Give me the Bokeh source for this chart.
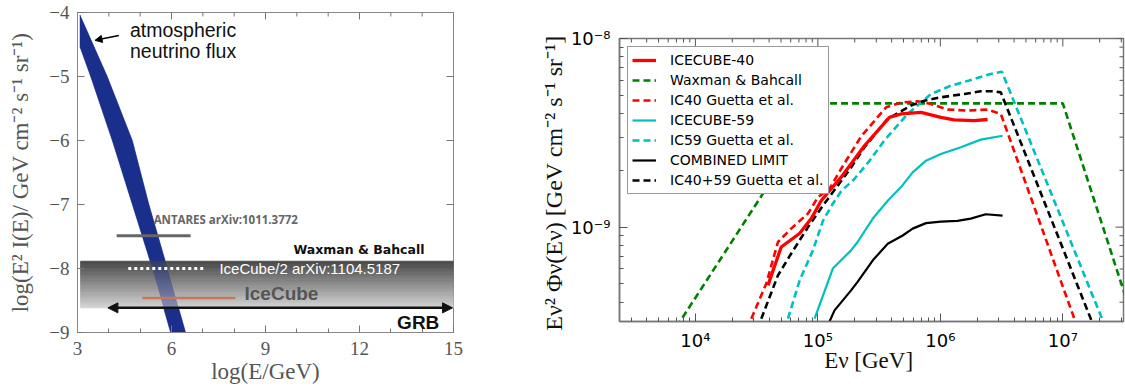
import numpy as np
from bokeh.plotting import figure
from bokeh.layouts import row
from bokeh.models import (Range1d, FixedTicker, Label, Arrow, NormalHead,
                          Legend, LegendItem, CustomJSTickFormatter)
from bokeh.embed import file_html
from bokeh.resources import INLINE

# ---------------- left panel data (log10 units) ----------------
atm_right_logE = [3.08, 3.95, 4.75, 5.28, 5.87, 6.45]
atm_right_logF = [-4.04, -5.0, -6.0, -7.0, -8.0, -9.0]
atm_left_logE = [3.08, 3.42, 4.11, 4.75, 5.39, 5.97]
atm_left_logF = [-4.54, -5.0, -6.0, -7.0, -8.0, -9.0]
wb_band_logE = [3.1, 15.0]
wb_band_logF = [-8.615, -7.886]
antares_logE = [4.25, 6.61]
antares_logF = [-7.49, -7.49]
ic2_logE = [4.62, 7.03]
ic2_logF = [-8.0, -8.0]
ic_logE = [5.07, 8.04]
ic_logF = [-8.46, -8.46]
grb_logE = [3.97, 14.97]
grb_logF = [-8.615, -8.615]
atm_arrow_logE = [4.32, 3.56]
atm_arrow_logF = [-4.36, -4.435]
left_xticks = [3, 6, 9, 12, 15]
left_xminor = list(range(3, 16))
left_yticks = [-9, -8, -7, -6, -5, -4]

# ---------------- right panel data ----------------
wb_E = [5.0e3, 1.07e5, 1.0e7, 5.0e7]
wb_F = [2.11e-10, 4.53e-9, 4.53e-9, 1.81e-10]

ic40_E = [3.91e4, 5.02e4, 7.08e4, 8.83e4, 1.064e5, 1.245e5, 1.55e5, 2.40e5, 3.84e5,
          4.78e5, 6.95e5, 1.01e6, 1.30e6, 1.89e6, 2.43e6]
ic40_F = [4.91e-10, 7.85e-10, 9.25e-10, 1.11e-9, 1.38e-9, 1.56e-9, 1.84e-9, 2.70e-9, 3.82e-9,
          3.98e-9, 4.06e-9, 3.82e-9, 3.70e-9, 3.67e-9, 3.72e-9]

ic40g_E = [2.86e4, 3.79e4, 4.72e4, 6.05e4, 8.30e4, 1.0e5, 1.245e5, 1.55e5, 2.25e5, 3.61e5,
           4.79e5, 6.53e5, 8.38e5, 1.145e6, 1.67e6, 2.43e6, 3.12e6, 1.27e7]
ic40g_F = [3.27e-10, 5.02e-10, 8.34e-10, 9.82e-10, 1.18e-9, 1.44e-9, 1.60e-9, 2.04e-9, 3.02e-9,
           4.32e-9, 4.58e-9, 4.65e-9, 4.50e-9, 4.20e-9, 4.15e-9, 4.20e-9, 3.98e-9, 3.14e-10]

ic59_E = [9.40e4, 1.324e5, 1.866e5, 2.11e5, 2.81e5, 3.72e5, 4.78e5, 5.94e5, 7.64e5, 1.01e6,
          1.47e6, 2.14e6, 3.22e6]
ic59_F = [3.27e-10, 6.03e-10, 7.53e-10, 8.34e-10, 1.11e-9, 1.38e-9, 1.63e-9, 1.95e-9, 2.25e-9,
          2.44e-9, 2.65e-9, 2.91e-9, 3.05e-9]

ic59g_E = [5.70e4, 7.10e4, 9.10e4, 1.10e5, 1.324e5, 1.55e5, 1.986e5, 2.63e5, 3.49e5, 5.41e5,
           8.38e5, 1.22e6, 1.89e6, 2.58e6, 3.18e6, 2.09e7]
ic59g_F = [3.27e-10, 5.22e-10, 7.53e-10, 1.08e-9, 1.33e-9, 1.55e-9, 1.80e-9, 2.24e-9, 2.88e-9,
           3.98e-9, 5.08e-9, 5.62e-9, 6.10e-9, 6.49e-9, 6.67e-9, 3.27e-10]

comb_E = [1.245e5, 1.368e5, 1.866e5, 2.11e5, 2.81e5, 3.72e5, 4.93e5, 5.94e5, 7.64e5, 1.01e6,
          1.38e6, 1.77e6, 2.35e6, 3.22e6]
comb_F = [3.16e-10, 3.62e-10, 4.62e-10, 5.13e-10, 6.67e-10, 8.17e-10, 9.03e-10, 9.82e-10,
          1.05e-9, 1.07e-9, 1.08e-9, 1.11e-9, 1.17e-9, 1.15e-9]

combg_E = [3.45e4, 4.72e4, 6.05e4, 8.30e4, 1.10e5, 1.324e5, 1.866e5, 2.40e5, 3.72e5, 5.75e5,
           7.40e5, 1.01e6, 1.57e6, 2.14e6, 2.75e6, 3.12e6, 1.71e7]
combg_F = [3.27e-10, 5.55e-10, 7.23e-10, 1.0e-9, 1.30e-9, 1.53e-9, 2.07e-9, 2.65e-9, 3.75e-9,
           4.41e-9, 4.68e-9, 4.88e-9, 5.08e-9, 5.25e-9, 5.25e-9, 5.18e-9, 3.21e-10]

right_xticks = [1e4, 1e5, 1e6, 1e7]
right_yticks = [1e-9, 1e-8]

SERIF = "Liberation Serif"
SANS = "Liberation Sans"
MPL = "DejaVu Sans"

# ======================= LEFT PANEL =======================
W1, H1 = 530, 392
B1 = dict(left=77, right=77, top=12, bottom=60)
X1, Y1 = (3, 15), (-9, -4)
p1 = figure(width=W1, height=H1, x_range=Range1d(*X1), y_range=Range1d(*Y1),
            output_backend="svg", toolbar_location=None,
            min_border_left=B1["left"], min_border_right=B1["right"],
            min_border_top=B1["top"], min_border_bottom=B1["bottom"])
p1.grid.visible = False
p1.outline_line_color = "#888888"

neg_fmt = CustomJSTickFormatter(code="return tick < 0 ? '\u2212' + Math.abs(tick) : String(tick);")
xt1 = FixedTicker(ticks=left_xticks, minor_ticks=left_xminor)
yt1 = FixedTicker(ticks=left_yticks, minor_ticks=[])

for ax in (p1.xaxis[0], p1.yaxis[0]):
    ax.major_tick_in = 7
    ax.major_tick_out = 0
    ax.minor_tick_in = 4
    ax.minor_tick_out = 0
    ax.axis_line_color = "#888888"
    ax.major_tick_line_color = "#777777"
    ax.minor_tick_line_color = "#777777"
    ax.major_label_text_font = SERIF
    ax.major_label_text_font_size = "19px"
    ax.major_label_text_color = "#555555"
    ax.axis_label_text_font = SERIF
    ax.axis_label_text_font_size = "23px"
    ax.axis_label_text_font_style = "normal"
    ax.axis_label_text_color = "#555555"
p1.xaxis[0].ticker = xt1
p1.yaxis[0].ticker = yt1
p1.yaxis[0].formatter = neg_fmt
p1.xaxis[0].axis_label = "log(E/GeV)"
p1.yaxis[0].axis_label = "log(E\u00b2 I(E)/ GeV cm\u207b\u00b2 s\u207b\u00b9 sr\u207b\u00b9)"
p1.xaxis[0].major_label_standoff = 9
p1.xaxis[0].axis_label_standoff = 1
p1.yaxis[0].major_label_standoff = 8
p1.yaxis[0].axis_label_standoff = 13

fw1 = W1 - B1["left"] - B1["right"]
fh1 = H1 - B1["top"] - B1["bottom"]
dy_px = (Y1[1] - Y1[0]) / fh1
dx_px = (X1[1] - X1[0]) / fw1

# mirrored inward ticks on top and right edges
p1.segment(x0=left_xminor, y0=[Y1[1]] * len(left_xminor), x1=left_xminor,
           y1=[Y1[1] - 4 * dy_px] * len(left_xminor), line_color="#777777", line_width=1)
p1.segment(x0=left_xticks, y0=[Y1[1]] * len(left_xticks), x1=left_xticks,
           y1=[Y1[1] - 7 * dy_px] * len(left_xticks), line_color="#777777", line_width=1)
p1.segment(x0=[X1[1]] * len(left_yticks), y0=left_yticks, x1=[X1[1] - 7 * dx_px] * len(left_yticks),
           y1=left_yticks, line_color="#777777", line_width=1)

# atmospheric neutrino band
band_x = atm_right_logE + atm_left_logE[::-1]
band_y = atm_right_logF + atm_left_logF[::-1]
BLUE = "#1b2f8c"
p1.patch(band_x, band_y, fill_color=BLUE, line_color=BLUE, line_width=0.5)

# Waxman & Bahcall gray gradient band
n_strips = 40
edges = np.linspace(wb_band_logF[0], wb_band_logF[1], n_strips + 1)
c_bot, c_top = np.array([214, 214, 214]), np.array([72, 72, 72])
strip_cols = []
for i in range(n_strips):
    t = (i + 0.5) / n_strips
    c = (c_bot * (1 - t) + c_top * t).astype(int)
    strip_cols.append("#%02x%02x%02x" % tuple(c))
p1.quad(left=wb_band_logE[0], right=wb_band_logE[1], bottom=edges[:-1], top=edges[1:],
        fill_color=strip_cols, line_color=strip_cols, line_width=0.8)
# band seen through the gray box
p1.patch(band_x, band_y, fill_color=BLUE, fill_alpha=0.42, line_color=None)

p1.line(antares_logE, antares_logF, line_color="#666666", line_width=3)
p1.line(ic2_logE, ic2_logF, line_color="white", line_width=3, line_dash="3 3")
p1.line(ic_logE, ic_logF, line_color="#c8785a", line_width=2.5)

p1.add_layout(Arrow(start=NormalHead(size=10, fill_color="#111111", line_color="#111111"),
                    end=NormalHead(size=10, fill_color="#111111", line_color="#111111"),
                    x_start=grb_logE[0], y_start=grb_logF[0],
                    x_end=grb_logE[1], y_end=grb_logF[1],
                    line_color="#111111", line_width=2.5))
p1.add_layout(Arrow(end=NormalHead(size=7, fill_color="black", line_color="black"),
                    x_start=atm_arrow_logE[0], y_start=atm_arrow_logF[0],
                    x_end=atm_arrow_logE[1], y_end=atm_arrow_logF[1],
                    line_color="black", line_width=1.5))


def lab(p, x, y, text, font, size, color, style="normal", align="left"):
    p.add_layout(Label(x=x, y=y, text=text, text_font=font, text_font_size=size,
                       text_color=color, text_font_style=style, text_align=align,
                       text_baseline="middle"))


lab(p1, 4.675, -4.28, "atmospheric", SANS, "19.5px", "#111111")
lab(p1, 4.675, -4.60, "neutrino flux", SANS, "19.5px", "#111111")
lab(p1, 5.43, -7.24, "ANTARES arXiv:1011.3772", "Open Sans", "11.5px", "#666666", "bold")
lab(p1, 9.89, -7.71, "Waxman & Bahcall", "DejaVu Sans", "12.5px", "#111111", "bold")
lab(p1, 7.53, -8.0, "IceCube/2 arXiv:1104.5187", SANS, "15px", "white")
lab(p1, 8.33, -8.385, "IceCube", SANS, "19px", "#555555", "bold")
lab(p1, 13.2, -8.846, "GRB", SANS, "19px", "#111111", "bold")

# ======================= RIGHT PANEL =======================
W2, H2 = 595, 392
B2 = dict(left=89, right=2, top=38, bottom=71)
X2, Y2 = (2.4e3, 3.13e7), (3.16e-10, 1e-8)
p2 = figure(width=W2, height=H2, x_axis_type="log", y_axis_type="log",
            x_range=Range1d(*X2), y_range=Range1d(*Y2),
            output_backend="svg", toolbar_location=None,
            min_border_left=B2["left"], min_border_right=B2["right"],
            min_border_top=B2["top"], min_border_bottom=B2["bottom"])
p2.grid.visible = False
p2.outline_line_color = "#777777"
p2.outline_line_width = 1.5

for p in (p1, p2):
    if "frame_align" in p.properties():
        p.frame_align = False

pow_fmt = CustomJSTickFormatter(code="""
const sup = {'-':'\u207b','0':'\u2070','1':'\u00b9','2':'\u00b2','3':'\u00b3','4':'\u2074',
             '5':'\u2075','6':'\u2076','7':'\u2077','8':'\u2078','9':'\u2079'};
const e = Math.round(Math.log10(tick));
return '10' + String(e).split('').map(c => sup[c]).join('');
""")
x_minor2 = [m * 10.0 ** d for d in range(3, 8) for m in range(2, 10)]
y_minor2 = [m * 10.0 ** d for d in (-10, -9) for m in range(2, 10)]
xt2 = FixedTicker(ticks=right_xticks, minor_ticks=x_minor2)
yt2 = FixedTicker(ticks=right_yticks, minor_ticks=y_minor2)

for ax in (p2.xaxis[0], p2.yaxis[0]):
    ax.major_tick_in = 8
    ax.major_tick_out = 0
    ax.minor_tick_in = 4
    ax.minor_tick_out = 0
    ax.axis_line_color = "#777777"
    ax.axis_line_width = 1.5
    ax.major_tick_line_color = "#555555"
    ax.minor_tick_line_color = "#555555"
    ax.major_label_text_font = MPL
    ax.major_label_text_font_size = "18px"
    ax.major_label_text_color = "black"
    ax.axis_label_text_font = SERIF
    ax.axis_label_text_font_size = "23px"
    ax.axis_label_text_font_style = "normal"
    ax.axis_label_text_color = "#111111"
    ax.formatter = pow_fmt
p2.yaxis[0].axis_label_text_font_size = "24px"
p2.xaxis[0].ticker = xt2
p2.yaxis[0].ticker = yt2
p2.xaxis[0].axis_label = "E\u03bd  [GeV]"
p2.yaxis[0].axis_label = "E\u03bd\u00b2 \u03a6\u03bd(E\u03bd)  [GeV cm\u207b\u00b2 s\u207b\u00b9 sr\u207b\u00b9]"
p2.xaxis[0].major_label_standoff = 8
p2.xaxis[0].axis_label_standoff = -6
p2.yaxis[0].major_label_standoff = 9
p2.yaxis[0].axis_label_standoff = 1

# mirrored inward ticks on top and right edges (log axes)
fw2 = W2 - B2["left"] - B2["right"]
fh2 = H2 - B2["top"] - B2["bottom"]
fx_px = 10 ** (np.log10(X2[1] / X2[0]) / fw2)
fy_px = 10 ** (np.log10(Y2[1] / Y2[0]) / fh2)
xm = [v for v in x_minor2 if X2[0] < v < X2[1]]
ym = [v for v in y_minor2 if Y2[0] < v < Y2[1]]
p2.segment(x0=xm, y0=[Y2[1]] * len(xm), x1=xm, y1=[Y2[1] / fy_px ** 4] * len(xm),
           line_color="#555555", line_width=1)
p2.segment(x0=right_xticks, y0=[Y2[1]] * 4, x1=right_xticks, y1=[Y2[1] / fy_px ** 8] * 4,
           line_color="#555555", line_width=1)
p2.segment(x0=[X2[1]] * len(ym), y0=ym, x1=[X2[1] / fx_px ** 4] * len(ym), y1=ym,
           line_color="#555555", line_width=1)
p2.segment(x0=[X2[1]] * 2, y0=right_yticks, x1=[X2[1] / fx_px ** 8] * 2, y1=right_yticks,
           line_color="#555555", line_width=1)

RED, GREEN, CYAN = "#ff0000", "#008000", "#00bfbf"
DASH = "7 4"
r_wb = p2.line(wb_E, wb_F, line_color=GREEN, line_width=2.6, line_dash=DASH)
r_40g = p2.line(ic40g_E, ic40g_F, line_color=RED, line_width=2.6, line_dash=DASH)
r_59g = p2.line(ic59g_E, ic59g_F, line_color=CYAN, line_width=2.6, line_dash=DASH)
r_cg = p2.line(combg_E, combg_F, line_color="black", line_width=2.6, line_dash=DASH)
r_59 = p2.line(ic59_E, ic59_F, line_color=CYAN, line_width=2.2)
r_c = p2.line(comb_E, comb_F, line_color="black", line_width=2.2)
r_40 = p2.line(ic40_E, ic40_F, line_color=RED, line_width=3.3)

legend = Legend(items=[
    LegendItem(label="ICECUBE-40", renderers=[r_40]),
    LegendItem(label="Waxman & Bahcall", renderers=[r_wb]),
    LegendItem(label="IC40 Guetta et al.", renderers=[r_40g]),
    LegendItem(label="ICECUBE-59", renderers=[r_59]),
    LegendItem(label="IC59 Guetta et al.", renderers=[r_59g]),
    LegendItem(label="COMBINED LIMIT", renderers=[r_c]),
    LegendItem(label="IC40+59 Guetta et al.", renderers=[r_cg]),
], location="top_left", margin=8, padding=4, spacing=2,
    glyph_width=24, glyph_height=18, label_height=18, label_standoff=14,
    label_text_font=MPL, label_text_font_size="14px", label_text_color="black",
    border_line_color="#333333", border_line_width=1.2,
    background_fill_color="white", background_fill_alpha=1.0)
p2.add_layout(legend)

layout = row(p1, p2)
open("out.html", "w").write(file_html(layout, INLINE))
